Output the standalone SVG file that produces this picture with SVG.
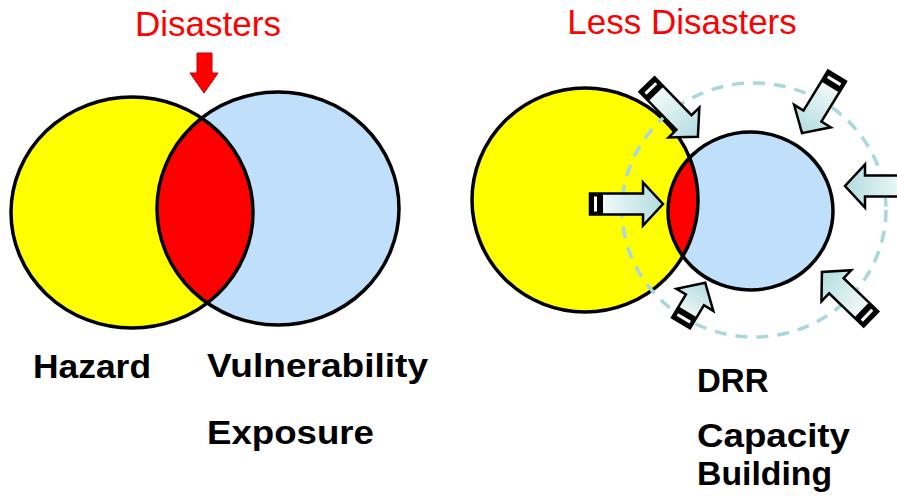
<svg xmlns="http://www.w3.org/2000/svg" width="897" height="499" viewBox="0 0 897 499">
<style>
.ol{fill:none;stroke:#000;stroke-width:3.5}
.red{fill:#FF0000;font-family:"Liberation Sans",Arial,sans-serif;font-size:35px}
.lbl{fill:#000;font-family:"Liberation Sans",Arial,sans-serif;font-size:33px;font-weight:bold}
.arr{fill:url(#ag);stroke:#000;stroke-width:2.5;stroke-linejoin:miter}
</style>
<defs>
<linearGradient id="ag" x1="0" y1="0" x2="1" y2="0">
<stop offset="0" stop-color="#FFFFFF"/>
<stop offset="1" stop-color="#B2DCDE"/>
</linearGradient>
<clipPath id="cl1"><ellipse cx="132" cy="212.5" rx="121" ry="115.5"/></clipPath>
<clipPath id="cl2"><ellipse cx="585" cy="200" rx="113" ry="112"/></clipPath>
<g id="tail">
<rect x="0" y="-10.5" width="13" height="21" fill="#000"/>
<rect x="4" y="-7.5" width="3" height="15" fill="#fff"/>
</g>
</defs>

<g id="left-venn">
<ellipse cx="132" cy="212.5" rx="121" ry="115.5" fill="#FFFF00"/>
<ellipse cx="278" cy="208.5" rx="121" ry="116.5" fill="#BFDFFA"/>
<ellipse cx="278" cy="208.5" rx="121" ry="116.5" fill="#FF0000" clip-path="url(#cl1)"/>
<ellipse class="ol" cx="132" cy="212.5" rx="121" ry="115.5"/>
<ellipse class="ol" cx="278" cy="208.5" rx="121" ry="116.5"/>
</g>

<g id="disasters-arrow">
<polygon points="197,53 212,53 212,73 218,73 204,93 190,73 197,73" fill="#FF0000" stroke="#C00000" stroke-width="1"/>
</g>

<g id="right-venn">
<ellipse cx="585" cy="200" rx="113" ry="112" fill="#FFFF00"/>
<ellipse cx="750.5" cy="211" rx="82.5" ry="79" fill="#BFDFFA"/>
<ellipse cx="750.5" cy="211" rx="82.5" ry="79" fill="#FF0000" clip-path="url(#cl2)"/>
<ellipse class="ol" cx="585" cy="200" rx="113" ry="112"/>
<ellipse class="ol" cx="750.5" cy="211" rx="82.5" ry="79"/>
<ellipse cx="754" cy="210" rx="132" ry="127" fill="none" stroke="#A8D8DC" stroke-width="3.5" stroke-dasharray="12 9"/>
</g>

<g id="connectors">
<g transform="translate(590,204)">
<path class="arr" d="M0,-10.5 H53 V-21.5 L73,0 L53,21.5 V10.5 H0 Z"/><use href="#tail"/>
</g>
<g transform="translate(647,84.5) rotate(45.8)">
<path class="arr" d="M0,-10.5 H53 V-21.5 L73,0 L53,21.5 V10.5 H0 Z"/><use href="#tail"/>
</g>
<g transform="translate(837,76) rotate(121.5)">
<path class="arr" d="M0,-10.5 H47 V-21.5 L67,0 L47,21.5 V10.5 H0 Z"/><use href="#tail"/>
</g>
<g transform="translate(918,186) rotate(180)">
<path class="arr" d="M0,-10.5 H53 V-21.5 L73,0 L53,21.5 V10.5 H0 Z"/><use href="#tail"/>
</g>
<g transform="translate(871,319) rotate(223.8)">
<path class="arr" d="M0,-10.5 H48 V-21.5 L68,0 L48,21.5 V10.5 H0 Z"/><use href="#tail"/>
</g>
<g transform="translate(681,323) rotate(-59)">
<path class="arr" d="M0,-10.5 H27 V-21.5 L47,0 L27,21.5 V10.5 H0 Z"/><use href="#tail"/>
</g>
</g>

<g id="labels">
<text class="red" x="208" y="36" text-anchor="middle">Disasters</text>
<text class="red" x="682" y="34" text-anchor="middle">Less Disasters</text>
<text class="lbl" x="33" y="378" textLength="118" lengthAdjust="spacingAndGlyphs">Hazard</text>
<text class="lbl" x="207" y="377" textLength="221" lengthAdjust="spacingAndGlyphs">Vulnerability</text>
<text class="lbl" x="207" y="444" textLength="167" lengthAdjust="spacingAndGlyphs">Exposure</text>
<text class="lbl" x="697" y="392">DRR</text>
<text class="lbl" x="697" y="447" textLength="153" lengthAdjust="spacingAndGlyphs">Capacity</text>
<text class="lbl" x="697" y="485" textLength="135" lengthAdjust="spacingAndGlyphs">Building</text>
</g>
</svg>
